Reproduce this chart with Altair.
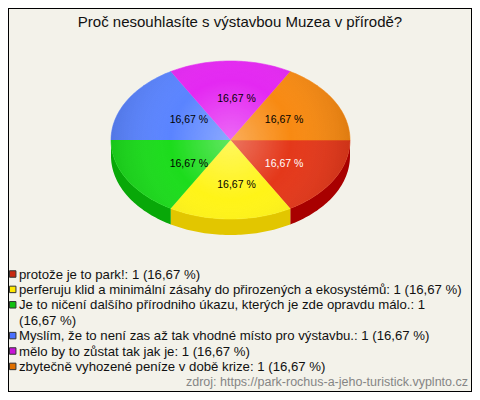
import altair as alt
import pandas as pd

# ---------------- data ----------------
title_text = "Proč nesouhlasíte s výstavbou Muzea v přírodě?"
source_text = "zdroj: https://park-rochus-a-jeho-turistick.vyplnto.cz"
labels = [
    "protože je to park!",
    "perferuju klid a minimální zásahy do přirozených a ekosystémů",
    "Je to ničení dalšího přírodniho úkazu, kterých je zde opravdu málo.",
    "Myslím, že to není zas až tak vhodné místo pro výstavbu.",
    "mělo by to zůstat tak jak je",
    "zbytečně vyhozené peníze v době krize",
]
counts = [1, 1, 1, 1, 1, 1]

# ---------------- styles ----------------
top_colors = ["#e4381a", "#fff418", "#1cdc1c", "#5a84ff", "#e428f2", "#f88a12"]
side_colors = ["#a80000", "#e2c600", "#08a808", "#3050c0", "#a010b0", "#c06000"]
legend_colors = ["#c82810", "#ffe800", "#10c010", "#4a70ff", "#c814d8", "#e07000"]
label_colors = ["white", "black", "black", "black", "black", "black"]
FONT = "Liberation Sans, Arial, sans-serif"
BG = "#f3f2ea"

W, H = 464, 384
CX, CY = 222.5, 132.0
RX, RY = 119.5, 79.0
DEPTH = 16.0
N = 48

df = pd.DataFrame({"label": labels, "count": counts, "idx": list(range(len(labels)))})

xs = alt.Scale(domain=[-1, 1], range=[CX - RX, CX + RX])
ys = alt.Scale(domain=[-1, 1], range=[CY + RY, CY - RY])

base = (
    alt.Chart(df)
    .transform_joinaggregate(total="sum(count)")
    .transform_window(cum="sum(count)", sort=[alt.SortField("idx")], frame=[None, 0])
    .transform_calculate(
        a0="-2*PI*(datum.cum-datum.count)/datum.total",
        a1="-2*PI*datum.cum/datum.total",
    )
)

poly = (
    base.transform_calculate(pts=f"sequence(0,{N + 2})")
    .transform_flatten(["pts"])
    .transform_calculate(
        t=f"datum.a0 + (datum.a1-datum.a0)*min(datum.pts,{N})/{N}",
    )
    .transform_calculate(
        px=f"datum.pts<={N} ? cos(datum.t) : 0",
        py=f"datum.pts<={N} ? sin(datum.t) : 0",
    )
)

side = (
    poly.transform_filter(f"datum.pts<={N} && sin(datum.t) <= 0.000001")
    .transform_calculate(pyb=f"datum.py - {DEPTH / RY}")
    .mark_area(interpolate="linear")
    .encode(
        x=alt.X("px:Q", scale=xs, axis=None),
        y=alt.Y("py:Q", scale=ys, axis=None),
        y2="pyb:Q",
        fill=alt.Fill("label:N", scale=alt.Scale(domain=labels, range=side_colors), legend=None),
        detail="label:N",
    )
)

top = poly.mark_line(strokeWidth=0.6).encode(
    x=alt.X("px:Q", scale=xs, axis=None),
    y=alt.Y("py:Q", scale=ys, axis=None),
    fill=alt.Fill("label:N", scale=alt.Scale(domain=labels, range=top_colors), legend=None),
    stroke=alt.Stroke("label:N", scale=alt.Scale(domain=labels, range=top_colors), legend=None),
    order=alt.Order("pts:Q"),
    detail="label:N",
)

shade = alt.RadialGradient(
    gradient="radial",
    stops=[
        alt.GradientStop(color="rgba(255,255,255,0.30)", offset=0),
        alt.GradientStop(color="rgba(255,255,255,0.0)", offset=0.5),
        alt.GradientStop(color="rgba(0,0,0,0.10)", offset=1),
    ],
    x1=0.5, y1=0.5, r1=0, x2=0.5, y2=0.5, r2=0.5,
)
overlay = (
    poly.transform_filter(f"datum.pts<={N}")
    .mark_line(fill=shade, strokeOpacity=0)
    .encode(
        x=alt.X("px:Q", scale=xs, axis=None),
        y=alt.Y("py:Q", scale=ys, axis=None),
        order=alt.Order("t:Q", sort="descending"),
    )
)

pct_expr = "replace(format(100*datum.count/datum.total, '.2f'), '.', ',') + ' %'"

pie_labels = (
    base.transform_calculate(m="(datum.a0+datum.a1)/2")
    .transform_calculate(lx="0.46*cos(datum.m)", ly="0.55*sin(datum.m)", pct=pct_expr)
    .mark_text(fontSize=10.5, font=FONT, dx=6, dy=2)
    .encode(
        x=alt.X("lx:Q", scale=xs, axis=None),
        y=alt.Y("ly:Q", scale=ys, axis=None),
        text="pct:N",
        color=alt.Color("label:N", scale=alt.Scale(domain=labels, range=label_colors), legend=None),
    )
)

leg_base = (
    base.transform_calculate(pct=pct_expr)
    .transform_calculate(full="datum.label + ': ' + datum.count + ' (' + datum.pct + ')'")
    .transform_calculate(
        txt="length(datum.full) > 76 ? replace(datum.full, ' (', '\\n(') : datum.full"
    )
    .transform_calculate(nl="indexof(datum.txt, '\\n') >= 0 ? 2 : 1")
    .transform_window(rowend="sum(nl)", sort=[alt.SortField("idx")], frame=[None, 0])
    .transform_calculate(row="datum.rowend - datum.nl")
)
ly_scale = alt.Scale(domain=[0, 6], range=[266, 358.4])

leg_sq = leg_base.mark_square(size=42, stroke="#333333", strokeWidth=1, opacity=1, filled=True).encode(
    x=alt.value(4.7),
    y=alt.Y("row:Q", scale=ly_scale, axis=None),
    fill=alt.Fill("label:N", scale=alt.Scale(domain=labels, range=legend_colors), legend=None),
)
leg_txt = leg_base.mark_text(
    align="left", baseline="alphabetic", dy=4.6, lineBreak="\n", lineHeight=15.4,
    fontSize=13.2, font=FONT, color="#111111",
).encode(
    x=alt.value(11),
    y=alt.Y("row:Q", scale=ly_scale, axis=None),
    text="txt:N",
)

title = alt.Chart(pd.DataFrame({"t": [title_text]})).mark_text(
    fontSize=15, font=FONT, color="#111111", align="center", baseline="alphabetic"
).encode(x=alt.value(232), y=alt.value(19), text="t:N")

source = alt.Chart(pd.DataFrame({"t": [source_text]})).mark_text(
    fontSize=12.5, font=FONT, color="#858585", align="right", baseline="alphabetic"
).encode(x=alt.value(460), y=alt.value(377.5), text="t:N")

chart = (
    alt.layer(side, top, overlay, pie_labels, leg_sq, leg_txt, title, source)
    .resolve_scale(x="independent", y="independent", fill="independent",
                   stroke="independent", color="independent")
    .properties(width=W, height=H, padding=0, background=BG,
                autosize=alt.AutoSizeParams(type="none"))
    .configure_view(stroke="#000000", strokeWidth=2)
)

chart.save("out.html", embed_options={"renderer": "svg", "actions": False})
